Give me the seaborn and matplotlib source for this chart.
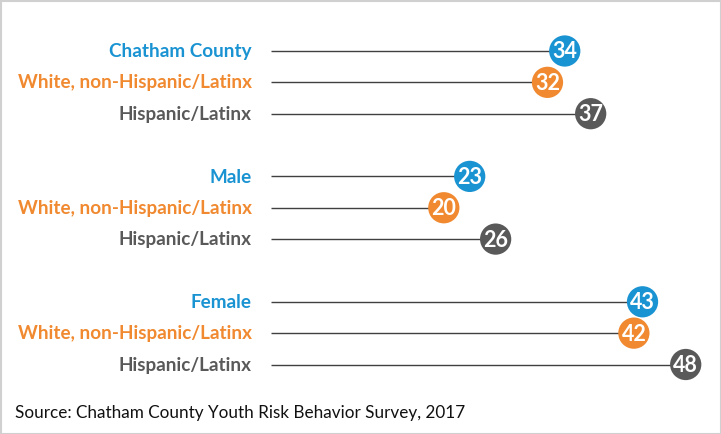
import matplotlib
matplotlib.use("Agg")
import matplotlib.pyplot as plt
import matplotlib.transforms as mtransforms
from matplotlib.patches import Rectangle
import seaborn as sns
import pandas as pd

groups = ["Chatham County", "Male", "Female"]
subgroups = ["White, non-Hispanic/Latinx", "Hispanic/Latinx"]
overall = [34, 23, 43]
white = [32, 20, 42]
hispanic = [37, 26, 48]
source = "Source: Chatham County Youth Risk Behavior Survey, 2017"

BLUE = "#1a93d2"
ORANGE = "#f0892f"
GRAY = "#595959"

rows = []
pos = 0
for g, o, w, h in zip(groups, overall, white, hispanic):
    rows.append(dict(label=g, value=o, kind="overall", pos=pos)); pos += 1
    rows.append(dict(label=subgroups[0], value=w, kind="white", pos=pos)); pos += 1
    rows.append(dict(label=subgroups[1], value=h, kind="hisp", pos=pos)); pos += 2
df = pd.DataFrame(rows)
palette = {"overall": BLUE, "white": ORANGE, "hisp": GRAY}

sns.set_theme(style="white")
plt.rcParams["font.family"] = ["Lato", "DejaVu Sans"]

fig = plt.figure(figsize=(7.21, 4.34), dpi=100)
ax = fig.add_axes([0, 0, 1, 1])
ppu = 8.64
step = 31.35
ax.set_xlim(-271 / ppu, (721 - 271) / ppu)
ax.set_ylim((434 - 51) / step, -51 / step)
ax.axis("off")

ax.hlines(df["pos"], 0, df["value"], color="#404040", linewidth=1.0, zorder=1)
sns.scatterplot(data=df, x="value", y="pos", hue="kind", palette=palette,
                s=(22.5) ** 2, edgecolor="none", legend=False, ax=ax, zorder=2)

off = mtransforms.offset_copy(ax.transData, fig=fig, x=-19, y=0, units="dots")
for _, r in df.iterrows():
    ax.text(r["value"], r["pos"] + 0.03, str(r["value"]), color="white",
            fontsize=15.5, fontweight="bold", ha="center", va="center", zorder=3)
    ax.text(0, r["pos"] + 0.02, r["label"], color=palette[r["kind"]], fontsize=13.6,
            fontweight="bold", ha="right", va="center", transform=off)

fig.text(15 / 721, 1 - 413 / 434, source, fontsize=12.3, color="#111111",
         ha="left", va="center")
fig.patches.append(Rectangle((0.5 / 721, 0.5 / 434), 1 - 1 / 721, 1 - 1 / 434,
                             transform=fig.transFigure, fill=False,
                             edgecolor="#d0d0d0", linewidth=1.5))
fig.savefig("out.png", dpi=100)
